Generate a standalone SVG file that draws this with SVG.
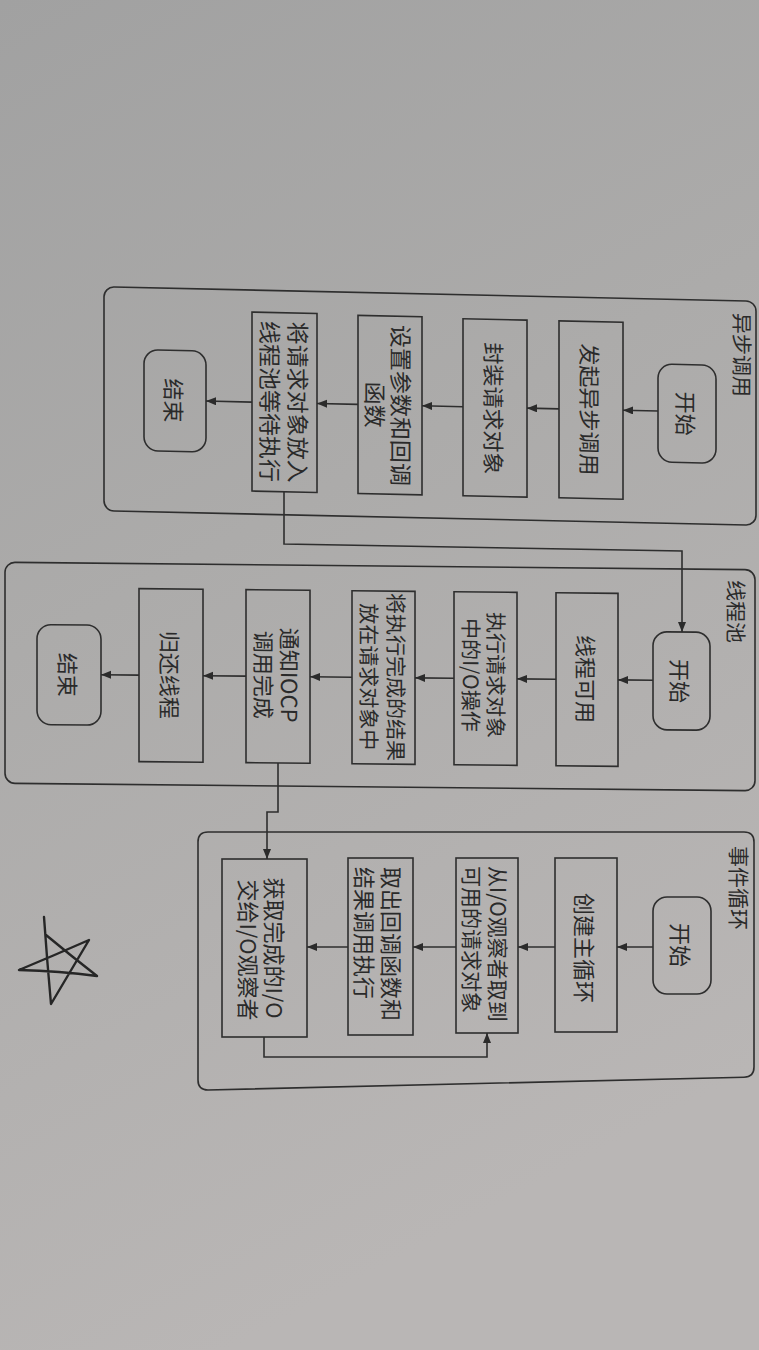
<svg xmlns="http://www.w3.org/2000/svg" width="759" height="1350" viewBox="0 0 759 1350">
<defs>
<linearGradient id="bg" x1="0" y1="0" x2="0.3" y2="1">
<stop offset="0" stop-color="#a1a1a1"/>
<stop offset="0.45" stop-color="#acabaa"/>
<stop offset="1" stop-color="#b9b6b5"/>
</linearGradient>
<marker id="ah" markerUnits="userSpaceOnUse" markerWidth="11" markerHeight="9" refX="10" refY="4" orient="auto">
<path d="M0,0 L10,4 L0,8 z" fill="#2b2b2b"/>
</marker>
<style>
.frame{fill:none;stroke:#2e2e2e;stroke-width:1.6}
.box{fill:none;stroke:#2e2e2e;stroke-width:1.6}
.ln{fill:none;stroke:#2e2e2e;stroke-width:1.6;marker-end:url(#ah)}
.t{font-family:"Noto Sans CJK SC","Noto Sans",sans-serif;font-size:22px;fill:#2a2a2a;text-anchor:middle;dominant-baseline:central}
.ts{font-family:"Noto Sans CJK SC","Noto Sans",sans-serif;font-size:22px;fill:#2a2a2a;text-anchor:start;dominant-baseline:central}
.big{font-size:23px}
.sm{font-size:21px}
.lbl{font-family:"Noto Sans CJK SC","Noto Sans",sans-serif;font-size:21px;fill:#2a2a2a;text-anchor:middle;dominant-baseline:central}
</style>
</defs>
<rect x="0" y="0" width="759" height="1350" fill="url(#bg)"/>

<!-- Cluster 1: 异步调用 -->
<g id="cluster-async" transform="matrix(1 0.022 0 1 0 -9.46)">
<rect class="frame" x="104" y="294" width="652" height="224" rx="10"/>
<text class="lbl" transform="translate(743,348) rotate(90)">异步调用</text>
<g id="a-start"><rect class="box" x="658" y="359" width="58" height="98" rx="14"/><text class="t" transform="translate(687,408) rotate(90)">开始</text></g>
<g id="a-invoke"><rect class="box" x="559" y="318" width="64" height="177"/><text class="t" transform="translate(591,406) rotate(90)">发起异步调用</text></g>
<g id="a-wrap"><rect class="box" x="463" y="318" width="64" height="177"/><text class="t" transform="translate(495,407) rotate(90)">封装请求对象</text></g>
<g id="a-params"><rect class="box" x="358" y="317" width="64" height="178"/><text class="t big" transform="translate(402,406) rotate(90)">设置参数和回调</text><text class="t big" transform="translate(376,406) rotate(90)">函数</text></g>
<g id="a-queue"><rect class="box" x="252" y="316" width="65" height="179"/><text class="t big" transform="translate(299,405) rotate(90)">将请求对象放入</text><text class="t big" transform="translate(271,405) rotate(90)">线程池等待执行</text></g>
<g id="a-end"><rect class="box" x="144" y="356" width="62" height="101" rx="14"/><text class="t" transform="translate(175,406) rotate(90)">结束</text></g>
</g>

<!-- Cluster 2: 线程池 -->
<g id="cluster-pool" transform="matrix(1 0.01 0 1 0 -3.8)">
<rect class="frame" x="5" y="566" width="750" height="221" rx="10"/>
<text class="lbl" transform="translate(737,608) rotate(90)">线程池</text>
<g id="p-start"><rect class="box" x="653" y="629" width="57" height="98" rx="14"/><text class="t" transform="translate(681,678) rotate(90)">开始</text></g>
<g id="p-ready"><rect class="box" x="556" y="591" width="62" height="173"/><text class="t" transform="translate(587,677) rotate(90)">线程可用</text></g>
<g id="p-exec"><rect class="box" x="454" y="591" width="63" height="173"/><text class="t sm" transform="translate(497,674) rotate(90)">执行请求对象</text><text class="t sm" transform="translate(472,674) rotate(90)">中的I/O操作</text></g>
<g id="p-store"><rect class="box" x="352" y="591" width="63" height="173"/><text class="t sm" transform="translate(397,677) rotate(90)">将执行完成的结果</text><text class="t sm" transform="translate(370,677) rotate(90)">放在请求对象中</text></g>
<g id="p-notify"><rect class="box" x="246" y="591" width="64" height="173"/><text class="t" transform="translate(291,676) rotate(90)">通知IOCP</text><text class="t" transform="translate(265,676) rotate(90)">调用完成</text></g>
<g id="p-return"><rect class="box" x="139" y="591" width="64" height="173"/><text class="t" transform="translate(171,677) rotate(90)">归还线程</text></g>
<g id="p-end"><rect class="box" x="37" y="628" width="64" height="100" rx="14"/><text class="t" transform="translate(69,678) rotate(90)">结束</text></g>
</g>

<!-- Cluster 3: 事件循环 -->
<g id="cluster-loop">
<path class="frame" d="M208,832 H744 Q754,832 754,842 V1067 Q754,1077 744,1077.2 L208,1090 Q198,1090 198,1080 V842 Q198,832 208,832 Z"/>
<text class="lbl" transform="translate(740,888) rotate(90)">事件循环</text>
<g id="e-start"><rect class="box" x="653" y="897" width="58" height="97" rx="14"/><text class="t" transform="translate(682,945) rotate(90)">开始</text></g>
<g id="e-create"><rect class="box" x="555" y="858" width="62" height="174"/><text class="t" transform="translate(586,948) rotate(90)">创建主循环</text></g>
<g id="e-fetch"><rect class="box" x="456" y="858" width="62" height="175"/><text class="ts sm" transform="translate(499,866) rotate(90)">从I/O观察者取到</text><text class="ts sm" transform="translate(473,866) rotate(90)">可用的请求对象</text></g>
<g id="e-callback"><rect class="box" x="348" y="858" width="65" height="177"/><text class="ts" transform="translate(393,867) rotate(90)">取出回调函数和</text><text class="ts" transform="translate(366,867) rotate(90)">结果调用执行</text></g>
<g id="e-deliver"><rect class="box" x="222" y="859" width="85" height="178"/><text class="t" transform="translate(276,948) rotate(90)">获取完成的I/O</text><text class="t" transform="translate(250,950) rotate(90)">交给I/O观察者</text></g>
</g>

<!-- Connectors -->
<g id="connectors">
<g transform="matrix(1 0.022 0 1 0 -9.46)">
<path class="ln" d="M658,406 L623,406"/>
<path class="ln" d="M559,406 L527,406"/>
<path class="ln" d="M463,406 L422,406"/>
<path class="ln" d="M358,406 L317,406"/>
<path class="ln" d="M252,406 L206,406"/>
</g>
<g transform="matrix(1 0.01 0 1 0 -3.8)">
<path class="ln" d="M653,677.5 L618,677.5"/>
<path class="ln" d="M556,677.5 L517,677.5"/>
<path class="ln" d="M454,677.5 L415,677.5"/>
<path class="ln" d="M352,677.5 L310,677.5"/>
<path class="ln" d="M246,677.5 L203,677.5"/>
<path class="ln" d="M139,677.5 L101,677.5"/>
</g>
<path class="ln" d="M653,947 L617,947"/>
<path class="ln" d="M555,947 L518,947"/>
<path class="ln" d="M456,947 L413,947"/>
<path class="ln" d="M348,947 L307,947"/>
<path class="ln" d="M284,491 L284,544 L682,551 L682,632"/>
<path class="ln" d="M278,763 L278,812 L267,812 L267,859"/>
<path class="ln" d="M264,1037 L264,1057 L487,1057 L487,1033"/>
</g>

<!-- hand-drawn star -->
<path d="M44,917 Q47,960 51,1004 Q70,972 89,940 Q55,955 19,970 Q60,971 97,976 Q70,955 46,935" fill="none" stroke="#262626" stroke-width="2.4" stroke-linecap="round" stroke-linejoin="round"/>
</svg>
